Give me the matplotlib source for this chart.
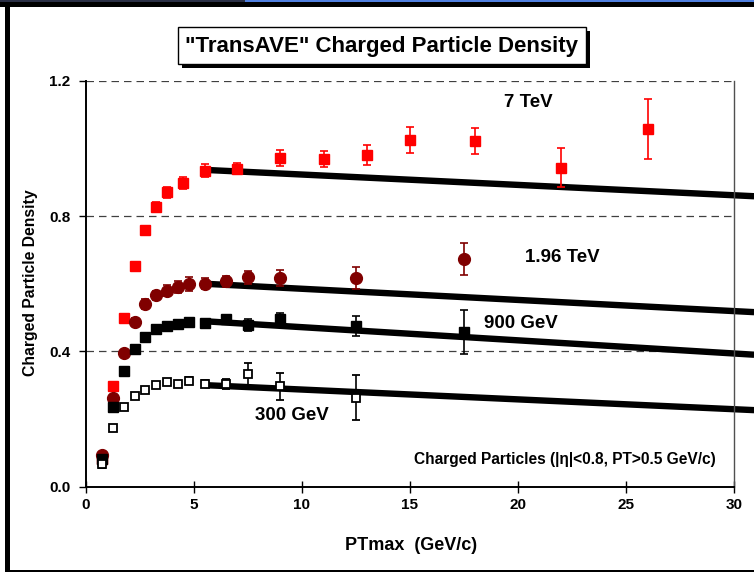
import matplotlib
matplotlib.use("Agg")
import matplotlib.pyplot as plt
from matplotlib.patches import Rectangle
from matplotlib import font_manager

W, H = 754, 573

# ---------------- data ----------------
x_7tev = [0.75, 1.25, 1.75, 2.25, 2.75, 3.25, 3.75, 4.5, 5.5, 7, 9, 11, 13, 15, 18, 22, 26]
y_7tev = [0.080, 0.297, 0.500, 0.654, 0.758, 0.828, 0.871, 0.898, 0.935, 0.940,
          0.972, 0.969, 0.980, 1.026, 1.022, 0.943, 1.057]
e_7tev = [0.005, 0.008, 0.008, 0.010, 0.012, 0.013, 0.016, 0.018, 0.020, 0.016,
          0.023, 0.024, 0.030, 0.038, 0.038, 0.058, 0.089]

x_196 = [0.75, 1.25, 1.75, 2.25, 2.75, 3.25, 3.75, 4.25, 4.75, 5.5, 6.5, 7.5, 9, 12.5, 17.5]
y_196 = [0.093, 0.263, 0.395, 0.486, 0.540, 0.566, 0.580, 0.590, 0.599, 0.600,
         0.607, 0.619, 0.617, 0.617, 0.673]
e_196 = [0.008, 0.008, 0.010, 0.012, 0.014, 0.014, 0.015, 0.018, 0.020, 0.017,
         0.017, 0.020, 0.025, 0.032, 0.048]

x_900 = [0.75, 1.25, 1.75, 2.25, 2.75, 3.25, 3.75, 4.25, 4.75, 5.5, 6.5, 7.5, 9, 12.5, 17.5]
y_900 = [0.080, 0.236, 0.343, 0.406, 0.443, 0.466, 0.476, 0.481, 0.487, 0.485,
         0.497, 0.478, 0.495, 0.474, 0.457]
e_900 = [0.005, 0.005, 0.005, 0.006, 0.006, 0.007, 0.007, 0.008, 0.008, 0.008,
         0.010, 0.018, 0.017, 0.030, 0.065]

x_300 = [0.75, 1.25, 1.75, 2.25, 2.75, 3.25, 3.75, 4.25, 4.75, 5.5, 6.5, 7.5, 9, 12.5]
y_300 = [0.066, 0.173, 0.236, 0.268, 0.286, 0.300, 0.310, 0.303, 0.313, 0.304,
         0.304, 0.332, 0.296, 0.263]
e_300 = [0.010, 0.010, 0.008, 0.008, 0.008, 0.008, 0.008, 0.008, 0.010, 0.010,
         0.015, 0.034, 0.040, 0.066]

# straight-line fits (start/end)
fit_x = [5.5, 30.93]
fit_7tev = [0.937, 0.859]
fit_196 = [0.600, 0.516]
fit_900 = [0.489, 0.390]
fit_300 = [0.300, 0.226]

x_ticks = [0, 5, 10, 15, 20, 25, 30]
y_ticks = [0.0, 0.4, 0.8, 1.2]
y_tick_labels = ["0.0", "0.4", "0.8", "1.2"]

title = '"TransAVE" Charged Particle Density'
xlabel = "PTmax  (GeV/c)"
ylabel = "Charged Particle Density"
note = "Charged Particles (|\u03b7|<0.8, PT>0.5 GeV/c)"

# ---------------- fonts ----------------
names = {f.name for f in font_manager.fontManager.ttflist}
base = ["Liberation Sans", "DejaVu Sans"]
has_narrow = "Liberation Sans Narrow" in names
narrow = (["Liberation Sans Narrow"] if has_narrow else []) + base
title_size = 17 if has_narrow else 16
plt.rcParams["font.family"] = base
plt.rcParams["font.weight"] = "bold"

fig = plt.figure(figsize=(W / 100, H / 100), dpi=100)
fig.patch.set_facecolor("white")


def fx(px):
    return px / W


def fy(py):
    return 1 - py / H


ax = fig.add_axes([fx(86), fy(486.5), fx(734) - fx(86), fy(81) - fy(486.5)])
ax.set_xlim(0, 30)
ax.set_ylim(0, 1.2)

# grid lines
for yv in y_ticks[1:]:
    ax.axhline(yv, color="#404040", lw=0.9, ls=(0, (6, 4)), zorder=1)

# fit lines
for fy_vals in (fit_7tev, fit_196, fit_900, fit_300):
    ax.plot(fit_x, fy_vals, color="black", lw=4.6, solid_capstyle="butt",
            clip_on=False, zorder=2)

# data
ax.errorbar(x_7tev, y_7tev, yerr=e_7tev, fmt="s", color="#ff0000", ms=7.2,
            elinewidth=1.2, capsize=3.2, capthick=1.2, zorder=3, clip_on=False)
ax.errorbar(x_196, y_196, yerr=e_196, fmt="o", color="#800000", ms=8.5,
            elinewidth=1.2, capsize=3.2, capthick=1.2, zorder=3, clip_on=False)
ax.errorbar(x_900, y_900, yerr=e_900, fmt="s", color="black", ms=7.0,
            elinewidth=1.2, capsize=3.2, capthick=1.2, zorder=3, clip_on=False)
ax.errorbar(x_300, y_300, yerr=e_300, fmt="s", color="black", mfc="white",
            mec="black", mew=1.3, ms=6.0, elinewidth=1.2, capsize=3.2,
            capthick=1.2, zorder=4, clip_on=False)

# labels inside
ax.text(20.46, 1.136, "7 TeV", ha="center", va="center", fontsize=13.5, fontweight="bold")
ax.text(22.04, 0.677, "1.96 TeV", ha="center", va="center", fontsize=13.5, fontweight="bold")
ax.text(20.14, 0.481, "900 GeV", ha="center", va="center", fontsize=13.5, fontweight="bold")
ax.text(9.54, 0.209, "300 GeV", ha="center", va="center", fontsize=13.5, fontweight="bold")
ax.text(22.18, 0.079, note, ha="center", va="center", fontsize=11.2, fontweight="bold")

# spines & ticks
ax.spines["top"].set_visible(False)
ax.spines["right"].set_color("#505050")
ax.spines["right"].set_linewidth(1.0)
ax.spines["left"].set_linewidth(1.4)
ax.spines["bottom"].set_linewidth(1.4)
ax.set_xticks(x_ticks)
ax.set_xticklabels([str(v) for v in x_ticks])
ax.set_yticks(y_ticks)
ax.set_yticklabels(y_tick_labels)
ax.tick_params(axis="x", direction="inout", length=9, width=1.0, labelsize=11, pad=4)
ax.tick_params(axis="y", direction="out", length=5, width=1.0, labelsize=11, pad=6)
for lab in ax.get_xticklabels() + ax.get_yticklabels():
    lab.set_fontweight("bold")

fig.text(fx(411), fy(545), xlabel, ha="center", va="center", fontsize=13, fontweight="bold")
fig.text(fx(31), fy(283), ylabel, ha="center", va="center", rotation=90,
         fontsize=11.3, fontweight="bold")

# title box with shadow
bx0, bx1, by0, by1 = 178, 586, 27, 64
fig.add_artist(Rectangle((fx(bx0 + 4), fy(by1 + 4)), fx(bx1 - bx0), fy(by0) - fy(by1),
                         transform=fig.transFigure, facecolor="black", edgecolor="none", zorder=5))
fig.add_artist(Rectangle((fx(bx0), fy(by1)), fx(bx1 - bx0), fy(by0) - fy(by1),
                         transform=fig.transFigure, facecolor="white", edgecolor="black",
                         lw=1.0, zorder=6))
fig.text(fx((bx0 + bx1) / 2), fy((by0 + by1) / 2 + 1), title, ha="center", va="center",
         fontsize=title_size, fontweight="bold", family=narrow, zorder=7)

# slide frame
fig.add_artist(Rectangle((0, fy(2.5)), 1, fy(0) - fy(2.5), transform=fig.transFigure,
                         facecolor="#4f7fdf", edgecolor="none", zorder=8))
fig.add_artist(Rectangle((0, fy(2.5)), fx(245), fy(0) - fy(2.5), transform=fig.transFigure,
                         facecolor="#2a2f45", edgecolor="none", zorder=8))
fig.add_artist(Rectangle((0, fy(6.5)), 1, fy(2.5) - fy(6.5), transform=fig.transFigure,
                         facecolor="black", edgecolor="none", zorder=8))
fig.add_artist(Rectangle((fx(5), fy(572)), fx(5), fy(4) - fy(572), transform=fig.transFigure,
                         facecolor="black", edgecolor="none", zorder=8))
fig.add_artist(Rectangle((fx(5), fy(572)), 1, fy(569.5) - fy(572), transform=fig.transFigure,
                         facecolor="black", edgecolor="none", zorder=8))

fig.savefig("out.png", dpi=100)
